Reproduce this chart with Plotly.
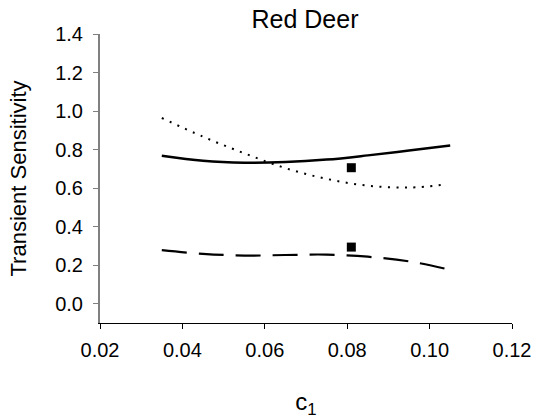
import plotly.graph_objects as go

# Transient sensitivity of red deer population vs. c1
c1_solid = [0.035, 0.045, 0.055, 0.065, 0.075, 0.085, 0.095, 0.105]
sens_solid = [0.768, 0.742, 0.732, 0.735, 0.748, 0.770, 0.795, 0.821]

c1_dotted = [0.035, 0.045, 0.055, 0.065, 0.075, 0.085, 0.095, 0.1035]
sens_dotted = [0.964, 0.867, 0.781, 0.704, 0.648, 0.613, 0.603, 0.618]

c1_dashed = [0.035, 0.045, 0.055, 0.065, 0.075, 0.085, 0.095, 0.104]
sens_dashed = [0.278, 0.259, 0.250, 0.253, 0.255, 0.244, 0.220, 0.181]

c1_point = [0.081, 0.081]
sens_point = [0.706, 0.294]

x_ticks = [0.02, 0.04, 0.06, 0.08, 0.10, 0.12]
y_ticks = [0.0, 0.2, 0.4, 0.6, 0.8, 1.0, 1.2, 1.4]

FONT = "Liberation Sans, Arial, sans-serif"

fig = go.Figure()
fig.add_trace(go.Scatter(x=c1_solid, y=sens_solid, mode="lines",
                         line=dict(color="black", width=2.5, shape="spline", smoothing=1.0)))
fig.add_trace(go.Scatter(x=c1_dotted, y=sens_dotted, mode="lines",
                         line=dict(color="black", width=2, dash="2px,6.5px",
                                   shape="spline", smoothing=1.0)))
fig.add_trace(go.Scatter(x=c1_dashed, y=sens_dashed, mode="lines",
                         line=dict(color="black", width=2.2, dash="25px,12px",
                                   shape="spline", smoothing=1.0)))
fig.add_trace(go.Scatter(x=c1_point, y=sens_point, mode="markers",
                         marker=dict(symbol="square", size=9, color="black")))

fig.update_layout(
    width=537, height=419,
    margin=dict(l=100, r=25, t=34, b=96, autoexpand=False),
    paper_bgcolor="white", plot_bgcolor="white",
    showlegend=False,
    font=dict(family=FONT, color="black", size=20),
    title=dict(text="Red Deer", x=305 / 537, xanchor="center", y=1 - 19 / 419,
               yanchor="middle", font=dict(size=25)),
)
fig.update_xaxes(
    range=[0.02, 0.12], tickvals=x_ticks, tickformat=".2f",
    tickfont=dict(size=20), automargin=False,
    showline=True, linecolor="black", linewidth=1,
    ticks="outside", ticklen=5, tickcolor="black", tickwidth=1,
    ticklabelstandoff=4,
    showgrid=False, zeroline=False,
    title=dict(text="c<sub>1</sub>", font=dict(size=24), standoff=34),
)
fig.update_yaxes(
    range=[-0.1, 1.4], tickvals=y_ticks, tickformat=".1f",
    tickfont=dict(size=20), automargin=False,
    showline=True, linecolor="#808080", linewidth=2,
    ticks="outside", ticklen=5, tickcolor="#808080", tickwidth=1,
    ticklabelstandoff=6,
    showgrid=False, zeroline=False,
    title=dict(text="Transient Sensitivity", font=dict(size=22), standoff=22),
)

fig.write_html("out.html")
